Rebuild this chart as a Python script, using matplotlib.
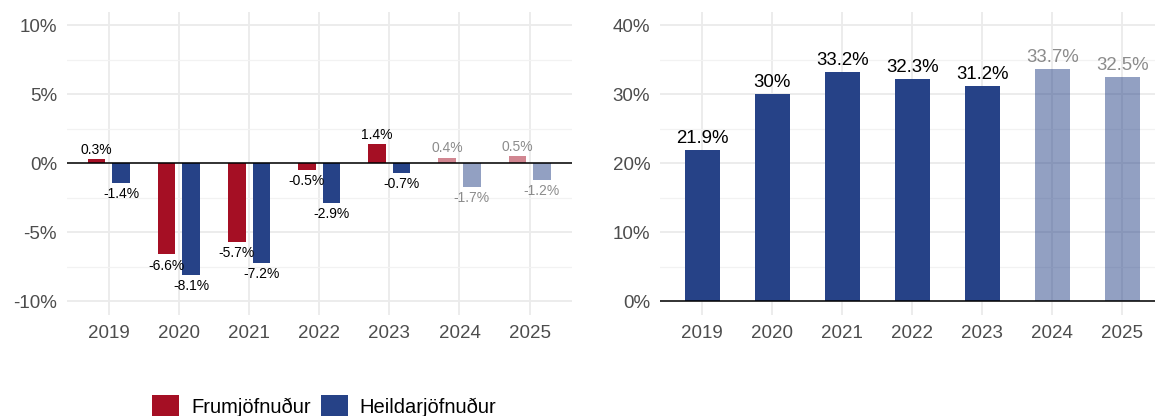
"""Two-panel bar chart: fiscal balance (left) and debt ratio (right)."""

import matplotlib

matplotlib.use("Agg")
import matplotlib.pyplot as plt
import numpy as np
from matplotlib.patches import Patch
from matplotlib.ticker import FuncFormatter, MultipleLocator

years = ["2019", "2020", "2021", "2022", "2023", "2024", "2025"]
frum = [0.3, -6.6, -5.7, -0.5, 1.4, 0.4, 0.5]
heild = [-1.4, -8.1, -7.2, -2.9, -0.7, -1.7, -1.2]
ratio = [21.9, 30.0, 33.2, 32.3, 31.2, 33.7, 32.5]
forecast = [False, False, False, False, False, True, True]
legend_labels = ["Frumjöfnuður", "Heildarjöfnuður"]

RED = "#A50F24"
BLUE = "#264287"
TICK = "#4D4D4D"
GRID = "#EBEBEB"

plt.rcParams["font.family"] = ["Liberation Sans", "DejaVu Sans"]


def _fmt_pct(value: float) -> str:
  return f"{value:g}%"


def _style(ax, ylim, major, minor):
  ax.set_xlim(-0.6, len(years) - 0.4)
  ax.set_ylim(*ylim)
  ax.set_xticks(np.arange(len(years)))
  ax.set_xticklabels(years)
  ax.yaxis.set_major_locator(MultipleLocator(major))
  ax.yaxis.set_minor_locator(MultipleLocator(minor))
  ax.yaxis.set_major_formatter(FuncFormatter(lambda v, _: f"{v:.0f}%"))
  ax.grid(which="major", color=GRID, linewidth=1.3)
  ax.grid(which="minor", axis="y", color="#F2F2F2", linewidth=0.9)
  ax.set_axisbelow(True)
  ax.tick_params(which="both", length=0, labelsize=13.5, labelcolor=TICK)
  ax.tick_params(axis="x", pad=7)
  ax.tick_params(axis="y", pad=7)
  for spine in ax.spines.values():
    spine.set_visible(False)
  ax.axhline(0, color="black", linewidth=1.1, zorder=3)


def _label(ax, x, value, size, up_pad, down_pad, faded):
  above = value >= 0
  ax.annotate(
    _fmt_pct(value),
    xy=(x, value),
    xytext=(0, up_pad if above else -down_pad),
    textcoords="offset points",
    ha="center",
    va="bottom" if above else "top",
    fontsize=size,
    color="black",
    alpha=0.45 if faded else 1.0,
  )


fig = plt.figure(figsize=(11.55, 4.16), dpi=100)
fig.patch.set_facecolor("white")

# left panel: balances
ax1 = fig.add_axes([66.7 / 1155, 1 - 315 / 416, 505 / 1155, 303.3 / 416])
_style(ax1, (-11, 11), 5, 2.5)
x = np.arange(len(years))
width = 0.25
offset = 0.175
for i in range(len(years)):
  alpha = 0.5 if forecast[i] else 1.0
  ax1.bar(x[i] - offset, frum[i], width, color=RED, alpha=alpha, zorder=2)
  ax1.bar(x[i] + offset, heild[i], width, color=BLUE, alpha=alpha, zorder=2)
  _label(ax1, x[i] - offset, frum[i], 10, 1.8, 3.0, forecast[i])
  _label(ax1, x[i] + offset, heild[i], 10, 1.8, 3.0, forecast[i])

# right panel: ratio
ax2 = fig.add_axes([660 / 1155, 1 - 315 / 416, 504.5 / 1155, 303.3 / 416])
_style(ax2, (-2, 42), 10, 5)
for i in range(len(years)):
  alpha = 0.5 if forecast[i] else 1.0
  ax2.bar(x[i], ratio[i], 0.5, color=BLUE, alpha=alpha, zorder=2)
  _label(ax2, x[i], ratio[i], 13.4, 2.2, 3.0, forecast[i])

handles = [Patch(facecolor=RED), Patch(facecolor=BLUE)]
fig.legend(
  handles,
  legend_labels,
  loc="center",
  bbox_to_anchor=(324.2 / 1155, 1 - 406 / 416),
  ncol=2,
  frameon=False,
  fontsize=14.5,
  handlelength=1.33,
  handleheight=1.33,
  handletextpad=0.58,
  columnspacing=0.51,
  borderpad=0,
  borderaxespad=0,
)

fig.savefig("out.png", dpi=100, facecolor="white")
